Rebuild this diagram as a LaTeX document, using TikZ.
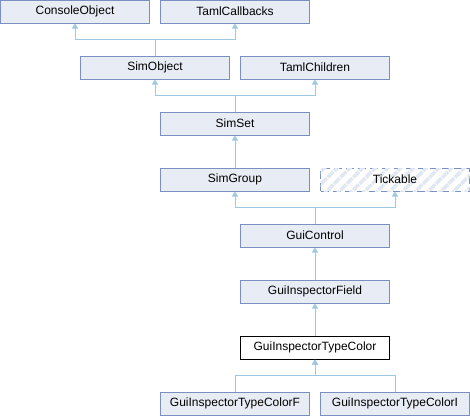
\documentclass[tikz,border=0pt]{standalone}
\usepackage{fontspec}
\setmainfont{Liberation Sans}
\usetikzlibrary{arrows.meta,patterns.meta}
\definecolor{boxfill}{RGB}{232,236,244}
\definecolor{boxdraw}{RGB}{122,144,196}
\definecolor{linecol}{RGB}{156,200,228}
\definecolor{hatch}{RGB}{226,232,242}
\tikzset{
  lbl/.style={font=\fontsize{12}{14}\selectfont},
  box/.style={draw=boxdraw, fill=boxfill, line width=1pt, minimum width=149pt, minimum height=23pt, inner sep=0pt, lbl},
  cur/.style={box, draw=black, fill=white},
  ext/.style={box, fill=white, dash pattern=on 8pt off 4pt, postaction={pattern={Lines[angle=45,distance=9pt,line width=3.5pt]}, pattern color=hatch}},
  arr/.style={draw=linecol, line width=1pt, -{Triangle[width=6pt,length=5pt]}}
}
\begin{document}
\begin{tikzpicture}[x=1pt,y=-1pt]
\useasboundingbox (0,0) rectangle (470,416);
\node[box] (co) at (75,11.5) {ConsoleObject};
\node[box] (tc) at (235,11.5) {TamlCallbacks};
\node[box] (so) at (155,67.5) {SimObject};
\node[box] (tch) at (315,67.5) {TamlChildren};
\node[box] (ss) at (235,123.5) {SimSet};
\node[box] (sg) at (235,179.5) {SimGroup};
\node[ext] (tk) at (395,179.5) {};
\node[lbl] (tkl) at (tk) {Tickable};
\node[box] (gc) at (315,235.5) {GuiControl};
\node[box] (gif) at (315,291.5) {GuiInspectorField};
\node[cur] (gitc) at (315,347.5) {GuiInspectorTypeColor};
\node[box] (gf) at (235,403.5) {GuiInspectorTypeColorF};
\node[box] (gi) at (395,403.5) {GuiInspectorTypeColorI};

\draw[arr] (so.north) -- ++(0,-16) -| (co.south);
\draw[arr] (so.north) -- ++(0,-16) -| (tc.south);
\draw[arr] (ss.north) -- ++(0,-16) -| (so.south);
\draw[arr] (ss.north) -- ++(0,-16) -| (tch.south);
\draw[arr] (gc.north) -- ++(0,-16) -| (sg.south);
\draw[arr] (gc.north) -- ++(0,-16) -| (tk.south);
\draw[arr] (sg.north) -- (ss.south);
\draw[arr] (gif.north) -- (gc.south);
\draw[arr] (gitc.north) -- (gif.south);
\draw[arr] (gf.north) -- ++(0,-16) -| (gitc.south);
\draw[arr] (gi.north) -- ++(0,-16) -| (gitc.south);
\end{tikzpicture}
\end{document}
